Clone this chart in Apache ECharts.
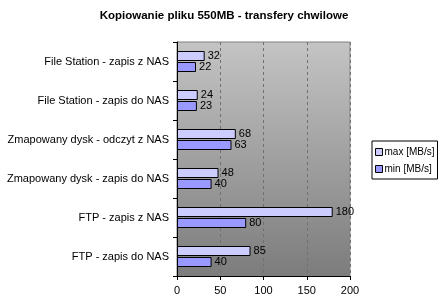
<!DOCTYPE html>
<html>
<head>
<meta charset="utf-8">
<script src="https://cdn.jsdelivr.net/npm/echarts@6/dist/echarts.min.js"></script>
<style>
  body { margin: 0; background: #fff; }
  #chart { width: 447px; height: 305px; }
</style>
</head>
<body>
<div id="chart"></div>
<script>
var categories = ['File Station - zapis z NAS', 'File Station - zapis do NAS', 'Zmapowany dysk - odczyt z NAS',
  'Zmapowany dysk - zapis do NAS', 'FTP - zapis z NAS', 'FTP - zapis do NAS'];
var maxValues = [32, 24, 68, 48, 180, 85];
var minValues = [22, 23, 63, 40, 80, 40];

var chart = echarts.init(document.getElementById('chart'));
var font = 'Arial, "Liberation Sans", sans-serif';

// etykiety przy słupkach
var lbl = { show: true, position: 'right', distance: 3, color: '#000', fontSize: 11, fontFamily: font };

var option = {
  animation: false,
  title: {
    text: 'Kopiowanie pliku 550MB - transfery chwilowe',
    left: 219, top: 5, textAlign: 'center',
    textStyle: { fontSize: 11.5, fontWeight: 'bold', color: '#000', fontFamily: font }
  },
  legend: {
    orient: 'vertical', left: 372, top: 141,
    itemWidth: 7, itemHeight: 7, itemGap: 7,
    padding: [6, 3, 5, 3],
    borderColor: '#000', borderWidth: 1, backgroundColor: '#fff',
    textStyle: { fontSize: 10, color: '#000', fontFamily: font, padding: [0, 0, 0, -3] },
    itemStyle: { borderColor: '#000', borderWidth: 1 },
    data: [
      { name: 'max [MB/s]', icon: 'rect' },
      { name: 'min [MB/s]', icon: 'rect' }
    ]
  },
  grid: {
    left: 177, right: 97, top: 42, bottom: 29,
    show: true, borderColor: '#808080', borderWidth: 1,
    backgroundColor: new echarts.graphic.LinearGradient(0, 0, 0, 1, [
      { offset: 0, color: '#c4c4c4' },
      { offset: 1, color: '#7c7c7c' }
    ])
  },
  xAxis: {
    type: 'value', min: 0, max: 200, interval: 50,
    axisLine: { show: true, lineStyle: { color: '#000' } },
    axisTick: { show: true, length: 4, lineStyle: { color: '#000' } },
    axisLabel: { color: '#000', fontSize: 11, fontFamily: font, margin: 9 },
    splitLine: { show: true, lineStyle: { color: '#707070', type: [3, 3] } }
  },
  yAxis: {
    type: 'category', inverse: true, data: categories,
    axisLine: { show: true, lineStyle: { color: '#000' } },
    axisTick: { show: true, length: 4, lineStyle: { color: '#000' } },
    axisLabel: { color: '#000', fontSize: 11, fontFamily: font, margin: 8 }
  },
  series: [
    {
      name: 'max [MB/s]', type: 'bar', data: maxValues,
      barWidth: 10, barGap: '10%',
      itemStyle: { color: '#ccccff', borderColor: '#000', borderWidth: 1 },
      label: lbl
    },
    {
      name: 'min [MB/s]', type: 'bar', data: minValues,
      barWidth: 10,
      itemStyle: { color: '#9999ff', borderColor: '#000', borderWidth: 1 },
      label: lbl
    }
  ]
};
chart.setOption(option);
</script>
</body>
</html>
